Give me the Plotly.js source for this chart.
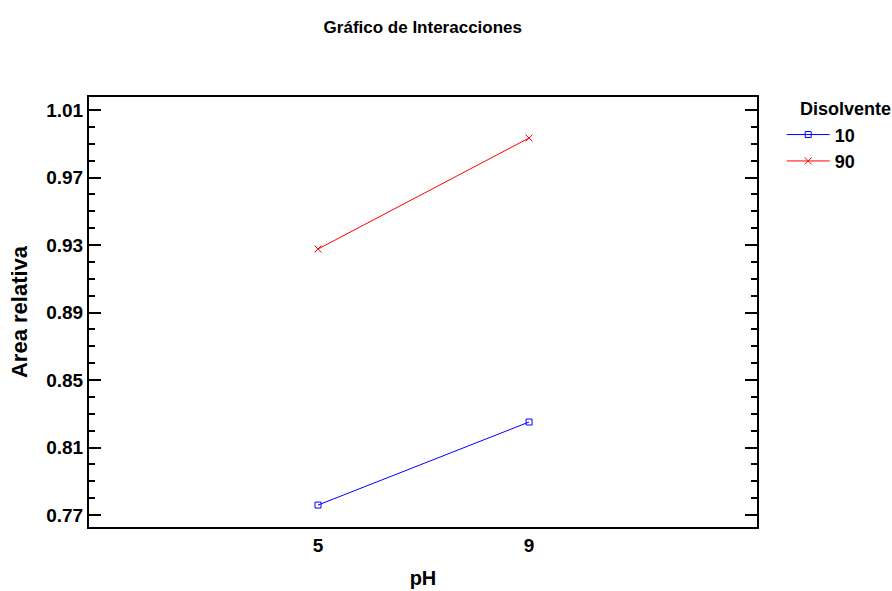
<!DOCTYPE html>
<html><head><meta charset="utf-8">
<script src="https://cdn.plot.ly/plotly-3.0.1.min.js"></script>
<style>body{margin:0;background:#fff}#chart{width:892px;height:591px}</style>
</head><body><div id="chart"></div>
<script>
const phLevels = ['5', '9'];
const solvent10 = [0.7759, 0.8251];
const solvent90 = [0.9276, 0.9934];
const seriesNames = ['10', '90'];
const legendTitle = 'Disolvente';
const yTickVals = [0.77, 0.81, 0.85, 0.89, 0.93, 0.97, 1.01];

const F = 'Liberation Sans, Arial, sans-serif';
const data = [
  {x: phLevels, y: solvent10, name: seriesNames[0], type: 'scatter', mode: 'lines+markers',
   line: {color: '#0000ff', width: 1}, marker: {symbol: 'square-open', size: 6, color: '#0000ff', line: {width: 1}}},
  {x: phLevels, y: solvent90, name: seriesNames[1], type: 'scatter', mode: 'lines+markers',
   line: {color: '#ff0000', width: 1}, marker: {symbol: 'x-thin-open', size: 7, color: '#ff0000', line: {width: 1, color: '#ff0000'}}}
];
const layout = {
  width: 892, height: 591,
  margin: {l: 89, r: 135, t: 97, b: 64},
  paper_bgcolor: '#fff', plot_bgcolor: '#fff',
  font: {family: F, color: '#000', size: 16, weight: 'bold'},
  title: {text: 'Gráfico de Interacciones', font: {family: F, size: 17, weight: 'bold'}, x: 0.474, xanchor: 'center', y: 0.955, yanchor: 'middle'},
  xaxis: {type: 'category', range: [-1.085, 2.08], showline: true, linecolor: '#000', linewidth: 2, mirror: true,
    ticks: '', showgrid: false, zeroline: false,
    tickfont: {family: F, size: 19, weight: 'bold'},
    title: {text: 'pH', font: {family: F, size: 20, weight: 'bold'}, standoff: 16}},
  yaxis: {range: [0.7629, 1.0177], tickvals: yTickVals, ticktext: yTickVals.map(v => v.toFixed(2)),
    showline: true, linecolor: '#000', linewidth: 2, mirror: 'ticks',
    ticks: 'inside', ticklen: 12, tickwidth: 2, tickcolor: '#000',
    minor: {dtick: 0.01, tick0: 0.77, ticks: 'inside', ticklen: 6, tickwidth: 2, tickcolor: '#000', showgrid: false},
    showgrid: false, zeroline: false,
    tickfont: {family: F, size: 19, weight: 'bold'},
    title: {text: 'Area relativa', font: {family: F, size: 22, weight: 'bold'}, standoff: 13}},
  showlegend: true,
  legend: {x: 1.037, xanchor: 'left', y: 0.955, yanchor: 'top', bgcolor: 'rgba(0,0,0,0)',
    font: {family: F, size: 18, weight: 'bold'}, tracegroupgap: 0, itemwidth: 43},
  annotations: [{text: legendTitle, xref: 'paper', yref: 'paper', x: 1.062, xanchor: 'left', y: 1.0, yanchor: 'top',
    showarrow: false, font: {family: F, size: 18, weight: 'bold'}}]
};
Plotly.newPlot('chart', data, layout, {displayModeBar: false});
</script></body></html>
